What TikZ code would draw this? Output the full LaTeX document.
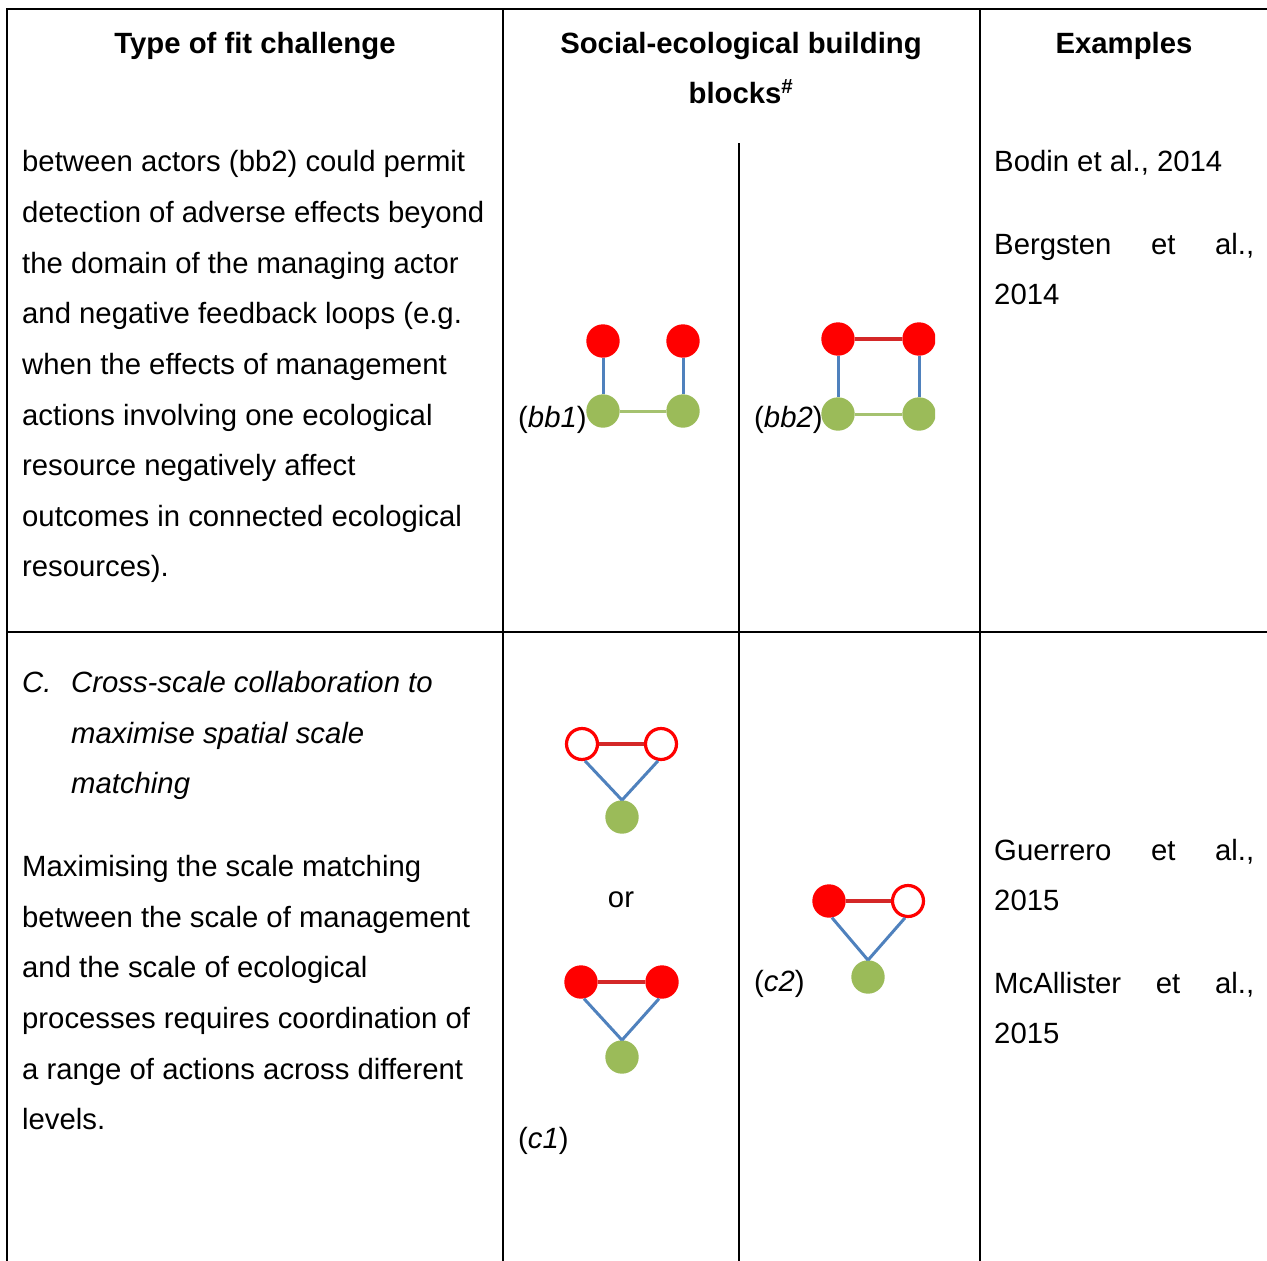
\documentclass[tikz,border=0pt]{standalone}
\usepackage{fontspec}
\setmainfont{Liberation Sans}
\definecolor{actorred}{RGB}{255,0,0}
\definecolor{linkred}{RGB}{212,40,40}
\definecolor{ecogreen}{RGB}{155,187,89}
\definecolor{linkgreen}{RGB}{165,194,112}
\definecolor{linkblue}{RGB}{79,129,189}
\newcommand\bodyfont{\fontsize{29.3}{50}\selectfont}
\begin{document}
\begin{tikzpicture}[x=1pt,y=-1pt,
  rule/.style={line width=2pt,black},
  hd/.style={font=\bodyfont\bfseries,inner sep=0,anchor=base},
  txt/.style={font=\bodyfont,inner sep=0,anchor=base west},
  itxt/.style={font=\bodyfont\itshape,inner sep=0,anchor=base west},
  actor/.style={circle,fill=actorred,minimum size=33.4pt,inner sep=0},
  openactor/.style={circle,draw=actorred,line width=3.2pt,fill=white,minimum size=31pt,inner sep=0},
  res/.style={circle,fill=ecogreen,minimum size=33.4pt,inner sep=0},
  sslink/.style={line width=3.2pt,linkred},
  selink/.style={line width=3pt,linkblue},
  eelink/.style={line width=3pt,linkgreen}]
\useasboundingbox (0,0) rectangle (1267,1261);

% table rules
\draw[rule] (7,1261) -- (7,9) -- (1267,9);
\draw[rule] (7,632) -- (1267,632);
\draw[rule] (503,9) -- (503,1261);
\draw[rule] (980,9) -- (980,1261);
\draw[rule] (739,143) -- (739,1261);

% header
\node[hd] (h1) at (255,53) {Type of fit challenge};
\node[hd] (h2) at (741,53) {Social-ecological building};
\node[hd] (h2b) at (741,103) {blocks\textsuperscript{\#}};
\node[hd] (h3) at (1124,53) {Examples};

% first row: description
\node[txt] (a1) at (22,171) {between actors (bb2) could permit};
\node[txt] (a2) at (22,222) {detection of adverse effects beyond};
\node[txt] (a3) at (22,273) {the domain of the managing actor};
\node[txt] (a4) at (22,323) {and negative feedback loops (e.g.};
\node[txt] (a5) at (22,374) {when the effects of management};
\node[txt] (a6) at (22,425) {actions involving one ecological};
\node[txt] (a7) at (22,475) {resource negatively affect};
\node[txt] (a8) at (22,526) {outcomes in connected ecological};
\node[txt] (a9) at (22,576) {resources).};

% first row: examples
\node[txt] (e1) at (994,171) {Bodin et al., 2014};
\node[txt] (e2) at (994,254) {\makebox[260pt][s]{Bergsten et al.,}};
\node[txt] (e3) at (994,304) {2014};

% first row: building blocks
\node[txt] (lbb1) at (518,427) {(\textit{bb1})};
\node[txt] (lbb2) at (754,427) {(\textit{bb2})};

\begin{scope}
  \clip (560,300) rectangle (700,450);
  \node[actor] (b1a) at (603,341) {};
  \node[actor] (b1b) at (683,341) {};
  \node[res] (b1c) at (603,411) {};
  \node[res] (b1d) at (683,411) {};
  \draw[selink] (b1a) -- (b1c);
  \draw[selink] (b1b) -- (b1d);
  \draw[eelink] (b1c) -- (b1d);
\end{scope}

\begin{scope}
  \clip (795,300) rectangle (935,450);
  \node[actor] (b2a) at (838,339) {};
  \node[actor] (b2b) at (919,339) {};
  \node[res] (b2c) at (838,414) {};
  \node[res] (b2d) at (919,414) {};
  \draw[sslink] (b2a) -- (b2b);
  \draw[selink] (b2a) -- (b2c);
  \draw[selink] (b2b) -- (b2d);
  \draw[eelink] (b2c) -- (b2d);
\end{scope}

% second row: description
\node[itxt] (c0) at (22,692) {C.};
\node[itxt] (c1) at (71,692) {Cross-scale collaboration to};
\node[itxt] (c2) at (71,743) {maximise spatial scale};
\node[itxt] (c3) at (71,793) {matching};
\node[txt] (d1) at (22,876) {Maximising the scale matching};
\node[txt] (d2) at (22,927) {between the scale of management};
\node[txt] (d3) at (22,977) {and the scale of ecological};
\node[txt] (d4) at (22,1028) {processes requires coordination of};
\node[txt] (d5) at (22,1079) {a range of actions across different};
\node[txt] (d6) at (22,1129) {levels.};

% second row: examples
\node[txt] (f1) at (994,860) {\makebox[260pt][s]{Guerrero et al.,}};
\node[txt] (f2) at (994,910) {2015};
\node[txt] (f3) at (994,993) {\makebox[260pt][s]{McAllister et al.,}};
\node[txt] (f4) at (994,1043) {2015};

% second row: building blocks
\node[font=\bodyfont,inner sep=0,anchor=base] (or) at (621,907) {or};
\node[txt] (lc1) at (518,1148) {(\textit{c1})};
\node[txt] (lc2) at (754,991) {(\textit{c2})};

\begin{scope}
  \clip (540,700) rectangle (679,860);
  \node[openactor] (t1a) at (582,744) {};
  \node[openactor] (t1b) at (661,744) {};
  \node[res] (t1c) at (622,817) {};
  \draw[sslink] (t1a) -- (t1b);
  \draw[selink] (t1a.-80) -- (t1c.north);
  \draw[selink] (t1b.-100) -- (t1c.north);
\end{scope}

\begin{scope}
  \clip (540,940) rectangle (679,1100);
  \node[actor] (t2a) at (581,982) {};
  \node[actor] (t2b) at (662,982) {};
  \node[res] (t2c) at (622,1057) {};
  \draw[sslink] (t2a) -- (t2b);
  \draw[selink] (t2a.-80) -- (t2c.north);
  \draw[selink] (t2b.-100) -- (t2c.north);
\end{scope}

\begin{scope}
  \clip (790,860) rectangle (925,1020);
  \node[actor] (t3a) at (829,901) {};
  \node[openactor] (t3b) at (908,901) {};
  \node[res] (t3c) at (868,977) {};
  \draw[sslink] (t3a) -- (t3b);
  \draw[selink] (t3a.-80) -- (t3c.north);
  \draw[selink] (t3b.-100) -- (t3c.north);
\end{scope}
\end{tikzpicture}
\end{document}
